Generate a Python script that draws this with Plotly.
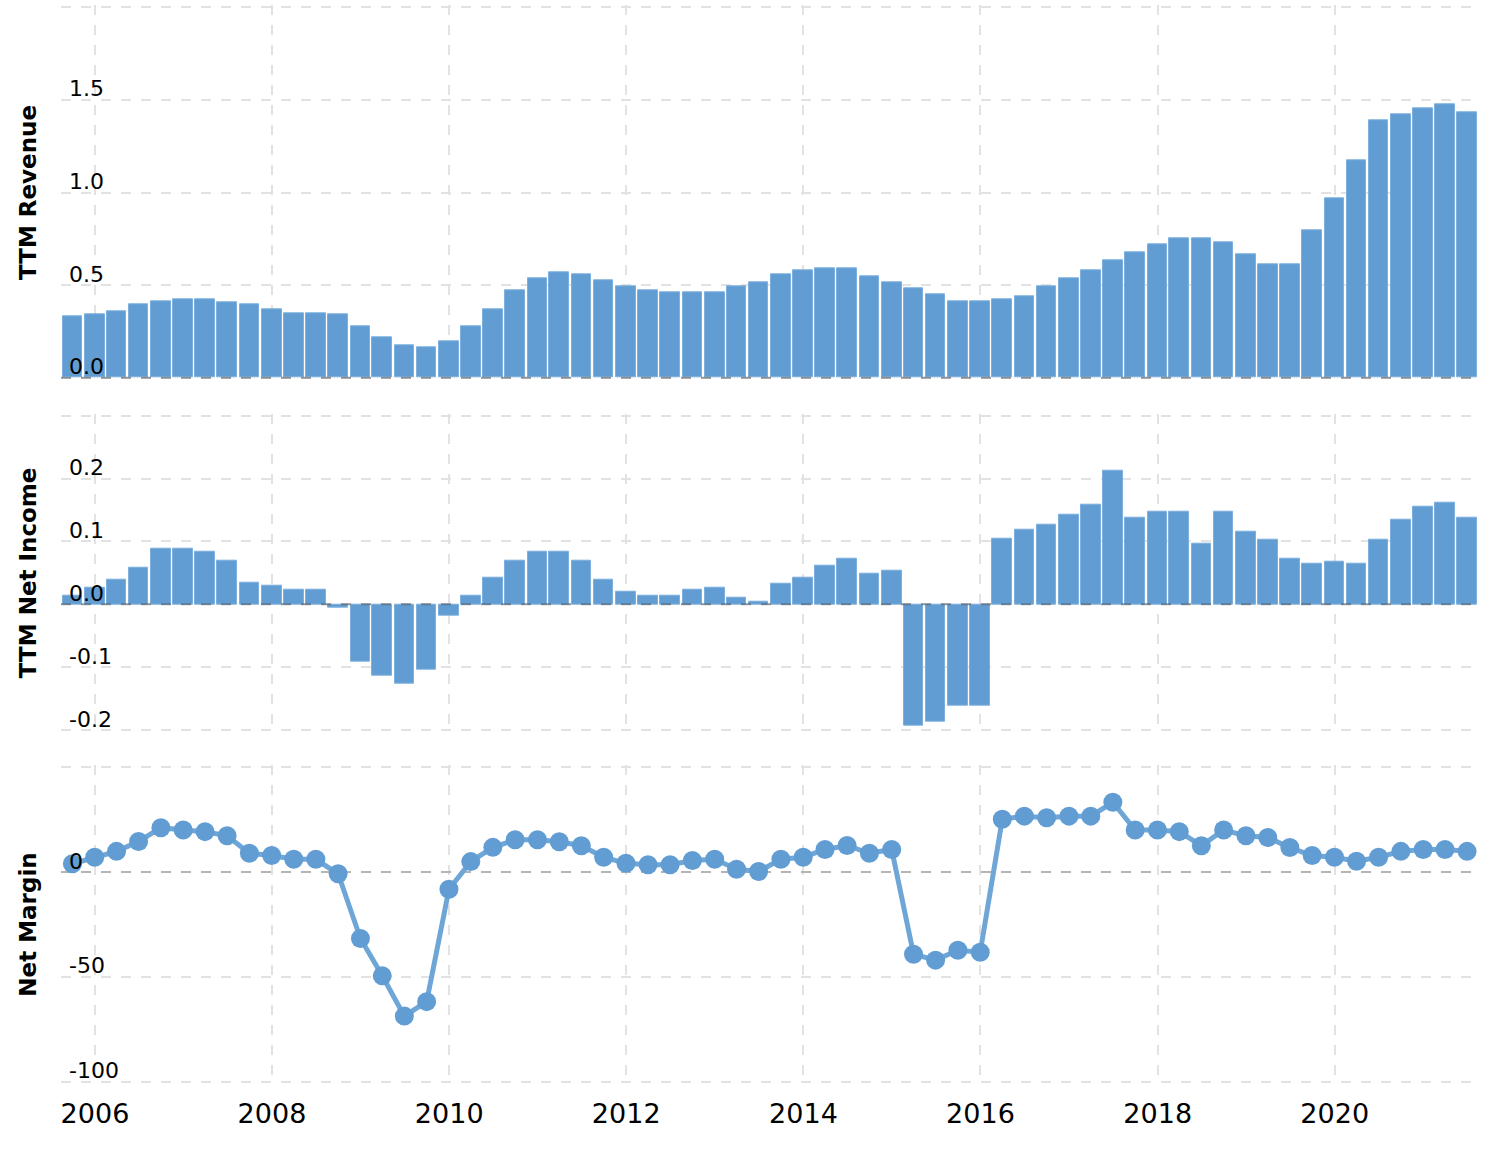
import plotly.graph_objects as go
from plotly.subplots import make_subplots

# ---------------- data ----------------
def quarter_ends(start_year, start_month, n):
    last_day = {3: 31, 6: 30, 9: 30, 12: 31}
    out = []
    y, m = start_year, start_month
    for _ in range(n):
        out.append(f"{y}-{m:02d}-{last_day[m]}")
        m += 3
        if m > 12:
            m -= 12
            y += 1
    return out

dates = quarter_ends(2005, 9, 64)

ttm_revenue = [
    0.329, 0.340, 0.361, 0.394, 0.415, 0.426, 0.426, 0.405, 0.394, 0.372,
    0.350, 0.350, 0.340, 0.275, 0.220, 0.177, 0.166, 0.199, 0.275, 0.372,
    0.470, 0.535, 0.567, 0.556, 0.524, 0.491, 0.470, 0.459, 0.459, 0.459,
    0.491, 0.513, 0.556, 0.578, 0.589, 0.589, 0.546, 0.513, 0.481, 0.448,
    0.415, 0.415, 0.426, 0.437, 0.491, 0.535, 0.578, 0.632, 0.676, 0.719,
    0.751, 0.751, 0.730, 0.665, 0.611, 0.611, 0.795, 0.968, 1.174, 1.391,
    1.423, 1.456, 1.477, 1.434,
]

ttm_net_income = [
    0.013, 0.026, 0.039, 0.058, 0.089, 0.089, 0.083, 0.070, 0.035, 0.029,
    0.023, 0.023, -0.005, -0.091, -0.113, -0.126, -0.104, -0.018, 0.013, 0.042,
    0.070, 0.083, 0.083, 0.070, 0.039, 0.020, 0.013, 0.013, 0.023, 0.026,
    0.010, 0.004, 0.032, 0.042, 0.061, 0.073, 0.048, 0.054, -0.193, -0.186,
    -0.161, -0.161, 0.105, 0.118, 0.127, 0.143, 0.159, 0.213, 0.137, 0.147,
    0.147, 0.096, 0.147, 0.115, 0.102, 0.073, 0.064, 0.067, 0.064, 0.102,
    0.134, 0.156, 0.162, 0.137,
]

net_margin = [
    4.0, 7.1, 9.9, 14.6, 21.2, 20.1, 19.3, 17.3, 9.0, 7.9,
    6.1, 6.1, -0.8, -31.7, -49.5, -68.7, -61.8, -8.2, 5.0, 11.8,
    15.4, 15.4, 14.5, 12.6, 7.1, 4.2, 3.5, 3.5, 5.5, 6.1,
    1.4, 0.3, 6.1, 7.1, 10.8, 12.7, 9.0, 10.8, -39.2, -42.0,
    -37.3, -38.2, 25.2, 26.7, 25.9, 26.7, 26.7, 33.3, 20.1, 20.1,
    19.3, 12.6, 20.1, 17.3, 16.5, 11.7, 7.9, 7.1, 5.2, 7.1,
    9.9, 10.8, 10.8, 9.9,
]

rev_ticks = [0, 0.5, 1.0, 1.5, 2.0]
rev_ticktext = ["0.0", "0.5", "1.0", "1.5", ""]
ni_ticks = [-0.2, -0.1, 0.0, 0.1, 0.2, 0.3]
ni_ticktext = ["-0.2", "-0.1", "0.0", "0.1", "0.2", ""]
nm_ticks = [-100, -50, 0, 50]
nm_ticktext = ["-100", "-50", "0", ""]

# ---------------- styles / layout geometry ----------------
BLUE = "rgb(97,157,211)"
BAR_EDGE = "rgb(125,176,222)"
LINE_BLUE = "rgb(110,166,216)"
GRID = "#e2e2e2"
FONT = "DejaVu Sans"
BAR_WIDTH_MS = 81 * 86400000
xrange = ["2005-08-14", "2021-08-14"]

W, H = 1506, 1156
T_PX, B_PX = 5, 1084          # plot area top / bottom in pixels
PLOT_H = B_PX - T_PX
PAD = 2                       # px of room so edge grid lines stay visible


def panel_geometry(top_px, bottom_px, lo, hi):
    ppu = (bottom_px - top_px) / (hi - lo)
    rng = [lo - PAD / ppu, hi + PAD / ppu]
    dom = [(B_PX - (bottom_px + PAD)) / PLOT_H, (B_PX - (top_px - PAD)) / PLOT_H]
    return rng, dom


geo = [
    panel_geometry(7.3, 377.7, rev_ticks[0], rev_ticks[-1]),
    panel_geometry(415.7, 730.0, ni_ticks[0], ni_ticks[-1]),
    panel_geometry(767.3, 1081.7, nm_ticks[0], nm_ticks[-1]),
]

fig = make_subplots(rows=3, cols=1, shared_xaxes=True, vertical_spacing=0.03)

fig.add_trace(go.Bar(x=dates, y=ttm_revenue, width=BAR_WIDTH_MS,
                     marker=dict(color=BLUE, line=dict(color=BAR_EDGE, width=1)),
                     showlegend=False), row=1, col=1)
fig.add_trace(go.Bar(x=dates, y=ttm_net_income, width=BAR_WIDTH_MS,
                     marker=dict(color=BLUE, line=dict(color=BAR_EDGE, width=1)),
                     showlegend=False), row=2, col=1)
# zero reference line of the margin panel (spans the axis range, drawn under the series)
fig.add_trace(go.Scatter(x=xrange, y=[0, 0], mode="lines", hoverinfo="skip",
                         line=dict(color="#b4b4b4", width=2, dash="10px,10px"),
                         showlegend=False), row=3, col=1)
fig.add_trace(go.Scatter(x=dates, y=net_margin, mode="lines+markers",
                         line=dict(color=LINE_BLUE, width=5),
                         marker=dict(color=BLUE, size=19),
                         showlegend=False), row=3, col=1)

for i, ax in enumerate(["xaxis", "xaxis2", "xaxis3"]):
    fig.layout[ax].update(
        type="date", range=xrange, tick0="2006-01-01", dtick="M24",
        showgrid=True, gridcolor=GRID, gridwidth=2, griddash="10px,10px",
        zeroline=False, showline=False,
        ticks="outside", ticklen=6, tickcolor="rgba(0,0,0,0)",
        showticklabels=(i == 2), tickformat="%Y",
        tickfont=dict(family=FONT, size=27, color="#000"),
    )

yspecs = [
    ("yaxis", "y", rev_ticks, rev_ticktext, "TTM Revenue"),
    ("yaxis2", "y2", ni_ticks, ni_ticktext, "TTM Net Income"),
    ("yaxis3", "y3", nm_ticks, nm_ticktext, "Net Margin"),
]
for (ax, yref, tv, tt, title), (rng, dom) in zip(yspecs, geo):
    fig.layout[ax].update(
        domain=dom, range=rng, tickvals=tv,
        showgrid=True, gridcolor=GRID, gridwidth=2, griddash="10px,10px",
        zeroline=False, showline=False, ticks="", showticklabels=False,
        title=dict(text=f"<b>{title}</b>", standoff=16,
                   font=dict(family=FONT, size=23, color="#000")),
        automargin=False,
    )
    # tick labels sit just inside the plot, above their grid line
    for v, t in zip(tv, tt):
        if t:
            fig.add_annotation(x=0, xref="x domain", y=v, yref=yref, text=t,
                               showarrow=False, xanchor="left", yanchor="middle",
                               xshift=6, yshift=11,
                               font=dict(family=FONT, size=22, color="#000"))

# zero lines drawn over the bars
for xr, yr in [("x domain", "y"), ("x2 domain", "y2")]:
    fig.add_shape(type="line", xref=xr, yref=yr, x0=0, x1=1, y0=0, y1=0,
                  line=dict(color="rgba(60,60,60,0.45)", width=2, dash="10px,10px"),
                  layer="above")

fig.update_layout(
    width=W, height=H,
    margin=dict(l=61, r=28, t=T_PX, b=H - B_PX),
    plot_bgcolor="white", paper_bgcolor="white",
    bargap=0, font=dict(family=FONT, color="#000"),
)

fig.write_html("out.html", config={"displayModeBar": False},
               post_script="document.body.style.margin='0px';")
